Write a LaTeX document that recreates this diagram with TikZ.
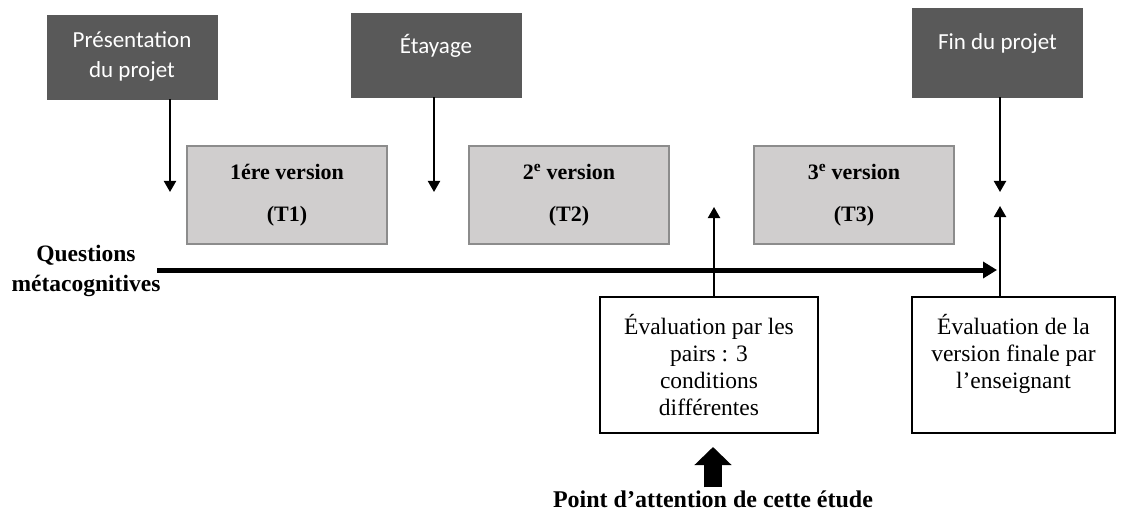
\documentclass[tikz,border=0pt]{standalone}
\usepackage{fontspec}
\setmainfont{Liberation Serif}
\newfontfamily\carlito{Carlito}
\usetikzlibrary{arrows.meta}
\usetikzlibrary{calc}

\definecolor{etapegris}{HTML}{595959}
\definecolor{versiongris}{HTML}{D0CECE}
\definecolor{bordgris}{HTML}{8C8C8C}

\tikzset{
    etape/.style = {fill=etapegris, draw=etapegris, text=white, minimum width=170pt, minimum height=84pt, inner sep=0pt, align=center, font=\carlito\fontsize{23}{30}\selectfont},
    version/.style = {fill=versiongris, draw=bordgris, line width=1.5pt, minimum width=200pt, minimum height=98pt, inner sep=0pt, align=center, font=\bfseries\fontsize{22}{42}\selectfont},
    evalbox/.style = {fill=white, draw=black, line width=1.5pt, minimum width=218pt, minimum height=136pt, inner sep=0pt, align=center, font=\fontsize{23.5}{27}\selectfont},
    fleche/.style = {line width=2pt, -{Triangle[width=12pt,length=11pt]}}
}

\begin{document}
\begin{tikzpicture}[x=1pt, y=-1pt]
            \useasboundingbox (0,0) rectangle (1121,513);
            \node[etape] (pres) at (132,57) {Présentation\\du projet};
            \node[etape, text depth=22pt] (etay) at (436,55) {Étayage};
            \node[etape, minimum height=89pt, text depth=22pt] (fin) at (997.5,52.5) {Fin du projet};
            \node[version] (v1) at (287,195) {1ére version\\(T1)};
            \node[version] (v2) at (569,195) {2\textsuperscript{e} version\\(T2)};
            \node[version] (v3) at (854,195) {3\textsuperscript{e} version\\(T3)};
            \node[evalbox] (pairs) at (709,365) {Évaluation par les\\pairs : 3\\conditions\\différentes};
            \node[evalbox, minimum width=203pt, text depth=27pt] (prof) at (1013.5,365) {Évaluation de la\\version finale par\\l’enseignant};
            \node[align=center, font=\bfseries\fontsize{23.5}{30}\selectfont] (meta) at (86,271) {Questions\\métacognitives};
            \node[inner sep=0pt, font=\bfseries\fontsize{24}{28}\selectfont] (focus) at (713,499) {Point d’attention de cette étude};
            \coordinate (p1) at (170,192);
            \coordinate (e1) at (434,192);
            \coordinate (f1) at (1000,192);
            \coordinate (f2) at (714,207);
            \coordinate (f3) at (1000,206);
            \coordinate (q0) at (157,270);
            \coordinate (q1) at (997,270);
            \coordinate (b1) at (713,447);
            \draw[line width=5pt, -{Triangle[width=16pt,length=14pt]}] (q0) -- (q1);
            \draw[fleche] (pres.south -| p1) -- (p1);
            \draw[fleche] (etay.south -| e1) -- (e1);
            \draw[fleche] (fin.south -| f1) -- (f1);
            \draw[fleche] (pairs.north -| f2) -- (f2);
            \draw[fleche] (prof.north -| f3) -- (f3);
            \draw[line width=18pt, shorten <=3pt, -{Triangle[width=36pt,length=18pt]}] (focus.north -| b1) -- (b1);
        \end{tikzpicture}
\end{document}
